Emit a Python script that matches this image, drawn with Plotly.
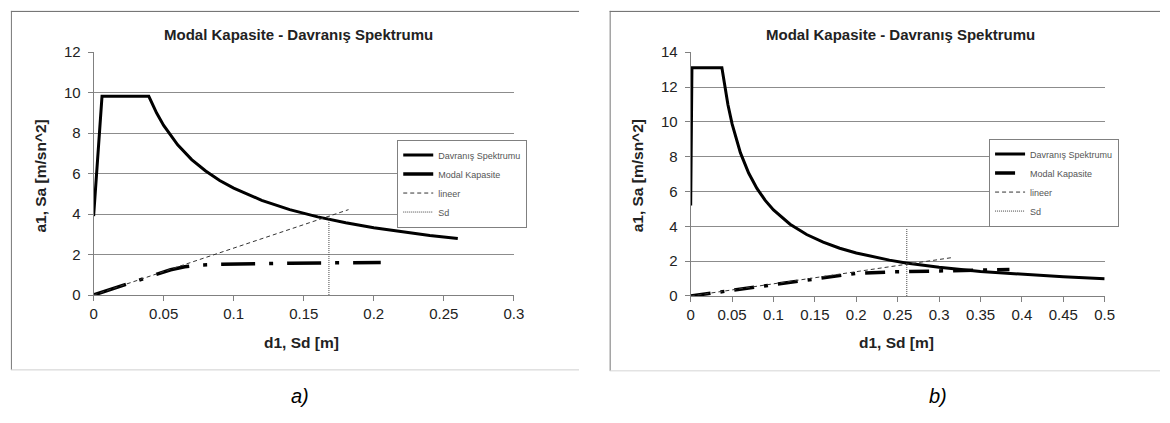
import plotly.graph_objects as go

W, H = 1170, 423

# ---------------- data ----------------
# panel a)
a_spec_x = [0, 0.006, 0.0394, 0.045, 0.05, 0.06, 0.07, 0.08, 0.09, 0.10, 0.12, 0.14, 0.16, 0.18, 0.20, 0.22, 0.24, 0.26]
a_spec_y = [3.9, 9.82, 9.82, 8.99, 8.38, 7.42, 6.69, 6.13, 5.66, 5.28, 4.68, 4.22, 3.86, 3.57, 3.32, 3.12, 2.94, 2.79]
a_modal_x = [0, 0.02, 0.04, 0.055, 0.065, 0.075, 0.09, 0.11, 0.14, 0.17, 0.205]
a_modal_y = [0, 0.45, 0.9, 1.25, 1.4, 1.48, 1.52, 1.55, 1.57, 1.59, 1.61]
a_lin_x = [0, 0.182]
a_lin_y = [0, 4.22]
a_sd_x = [0.168, 0.168]
a_sd_y = [0, 3.95]

# panel b)
b_spec_x = [0, 0.0015, 0.0377, 0.045, 0.05, 0.06, 0.07, 0.08, 0.09, 0.10, 0.12, 0.14, 0.16, 0.18, 0.20,
            0.22, 0.24, 0.26, 0.28, 0.30, 0.35, 0.40, 0.45, 0.50]
b_spec_y = [5.2, 13.1, 13.1, 10.98, 9.88, 8.23, 7.06, 6.18, 5.49, 4.94, 4.12, 3.53, 3.09, 2.74, 2.47,
            2.25, 2.06, 1.90, 1.76, 1.65, 1.41, 1.24, 1.10, 0.99]
b_modal_x = [0, 0.05, 0.1, 0.15, 0.2, 0.24, 0.28, 0.32, 0.36, 0.385]
b_modal_y = [0, 0.33, 0.66, 0.99, 1.3, 1.38, 1.43, 1.47, 1.5, 1.52]
b_lin_x = [0, 0.315]
b_lin_y = [0, 2.2]
b_sd_x = [0.261, 0.261]
b_sd_y = [0, 3.9]

names = ["Davranış Spektrumu", "Modal Kapasite", "lineer", "Sd"]
title_text = "Modal Kapasite - Davranış Spektrumu"
x_title = "d1, Sd [m]"
y_title = "a1, Sa [m/sn^2]"
a_xticks = [0, 0.05, 0.1, 0.15, 0.2, 0.25, 0.3]
a_yticks = [0, 2, 4, 6, 8, 10, 12]
b_xticks = [0, 0.05, 0.1, 0.15, 0.2, 0.25, 0.3, 0.35, 0.4, 0.45, 0.5]
b_yticks = [0, 2, 4, 6, 8, 10, 12, 14]

FONT = "Arial, Liberation Sans, sans-serif"

def px(x):
    return x / W

def py(y):
    return 1 - y / H

fig = go.Figure()

def add_panel(xa, ya, leg, sx, sy, mx, my, lx, ly, dx, dy, modal_dash):
    fig.add_trace(go.Scatter(x=sx, y=sy, mode="lines", name=names[0], xaxis=xa, yaxis=ya, legend=leg,
                             line=dict(color="black", width=3)))
    fig.add_trace(go.Scatter(x=mx, y=my, mode="lines", name=names[1], xaxis=xa, yaxis=ya, legend=leg,
                             line=dict(color="black", width=3.5, dash=modal_dash)))
    fig.add_trace(go.Scatter(x=lx, y=ly, mode="lines", name=names[2], xaxis=xa, yaxis=ya, legend=leg,
                             line=dict(color="#333333", width=1, dash="4px,3px")))
    fig.add_trace(go.Scatter(x=dx, y=dy, mode="lines", name=names[3], xaxis=xa, yaxis=ya, legend=leg,
                             line=dict(color="#444444", width=1, dash="1px,1px")))

add_panel("x", "y", "legend", a_spec_x, a_spec_y, a_modal_x, a_modal_y, a_lin_x, a_lin_y, a_sd_x, a_sd_y,
          "34px,14px,4px,14px")
add_panel("x2", "y2", "legend2", b_spec_x, b_spec_y, b_modal_x, b_modal_y, b_lin_x, b_lin_y, b_sd_x, b_sd_y,
          "20px,10px,4px,10px")

axis_common = dict(showline=True, linecolor="#808080", linewidth=1, ticks="outside", ticklen=5,
                   tickcolor="#808080", tickfont=dict(family=FONT, size=15, color="#222222"),
                   zeroline=False, fixedrange=True)

fig.update_layout(
    width=W, height=H, margin=dict(l=0, r=0, t=0, b=0),
    paper_bgcolor="white", plot_bgcolor="white",
    xaxis=dict(domain=[px(90.7), px(516)], range=[0, 0.3], tickvals=a_xticks,
               ticktext=[str(v) for v in a_xticks], showgrid=False, anchor="y", **axis_common),
    yaxis=dict(domain=[py(298), py(45)], range=[0, 12], tickvals=a_yticks, showgrid=True,
               gridcolor="#8c8c8c", gridwidth=1, anchor="x", ticklabelstandoff=4, **axis_common),
    xaxis2=dict(domain=[px(695), px(1114)], range=[0, 0.5], tickvals=b_xticks,
                ticktext=[str(v) for v in b_xticks], showgrid=False, anchor="y2", **axis_common),
    yaxis2=dict(domain=[py(299), py(45)], range=[0, 14], tickvals=b_yticks, showgrid=True,
                gridcolor="#8c8c8c", gridwidth=1, anchor="x2", ticklabelstandoff=4, **axis_common),
    legend=dict(x=px(398), y=py(136), xanchor="left", yanchor="top", bgcolor="white",
                bordercolor="#808080", borderwidth=1, font=dict(family=FONT, size=9, color="#555555"),
                tracegroupgap=0),
    legend2=dict(x=px(997), y=py(135), xanchor="left", yanchor="top", bgcolor="white",
                 bordercolor="#808080", borderwidth=1, font=dict(family=FONT, size=9, color="#555555"),
                 tracegroupgap=0),
    showlegend=True,
)

ann = []
def text(x, y, t, size, bold=False, italic=False, angle=0, color="#222222"):
    s = t
    if bold:
        s = "<b>" + s + "</b>"
    if italic:
        s = "<i>" + s + "</i>"
    ann.append(dict(x=px(x), y=py(y), xref="paper", yref="paper", text=s, showarrow=False,
                    textangle=angle, xanchor="center", yanchor="middle",
                    font=dict(family=FONT, size=size, color=color)))

text(298, 27, title_text, 15, bold=True)
text(907, 27, title_text, 15, bold=True)
text(301, 347, x_title, 15.5, bold=True)
text(903, 347, x_title, 15.5, bold=True)
text(36, 174, y_title, 15.5, bold=True, angle=-90)
text(641, 174, y_title, 15.5, bold=True, angle=-90)
text(300, 403, "a)", 20, italic=True, color="black")
text(945, 403, "b)", 20, italic=True, color="black")
fig.update_layout(annotations=ann)

shapes = []
def seg(x0, y0, x1, y1, color):
    shapes.append(dict(type="line", xref="paper", yref="paper", x0=px(x0), y0=py(y0), x1=px(x1), y1=py(y1),
                       line=dict(color=color, width=1)))

# panel frames
seg(7, 2.5, 582, 2.5, "#666666")
seg(7.5, 2, 7.5, 376, "#777777")
seg(7, 376, 582, 376, "#cfcfcf")
seg(613, 2.5, 1170, 2.5, "#666666")
seg(613.5, 2, 613.5, 377, "#777777")
seg(613, 377, 1170, 377, "#d5d5d5")
fig.update_layout(shapes=shapes)

fig.write_html("out.html")
